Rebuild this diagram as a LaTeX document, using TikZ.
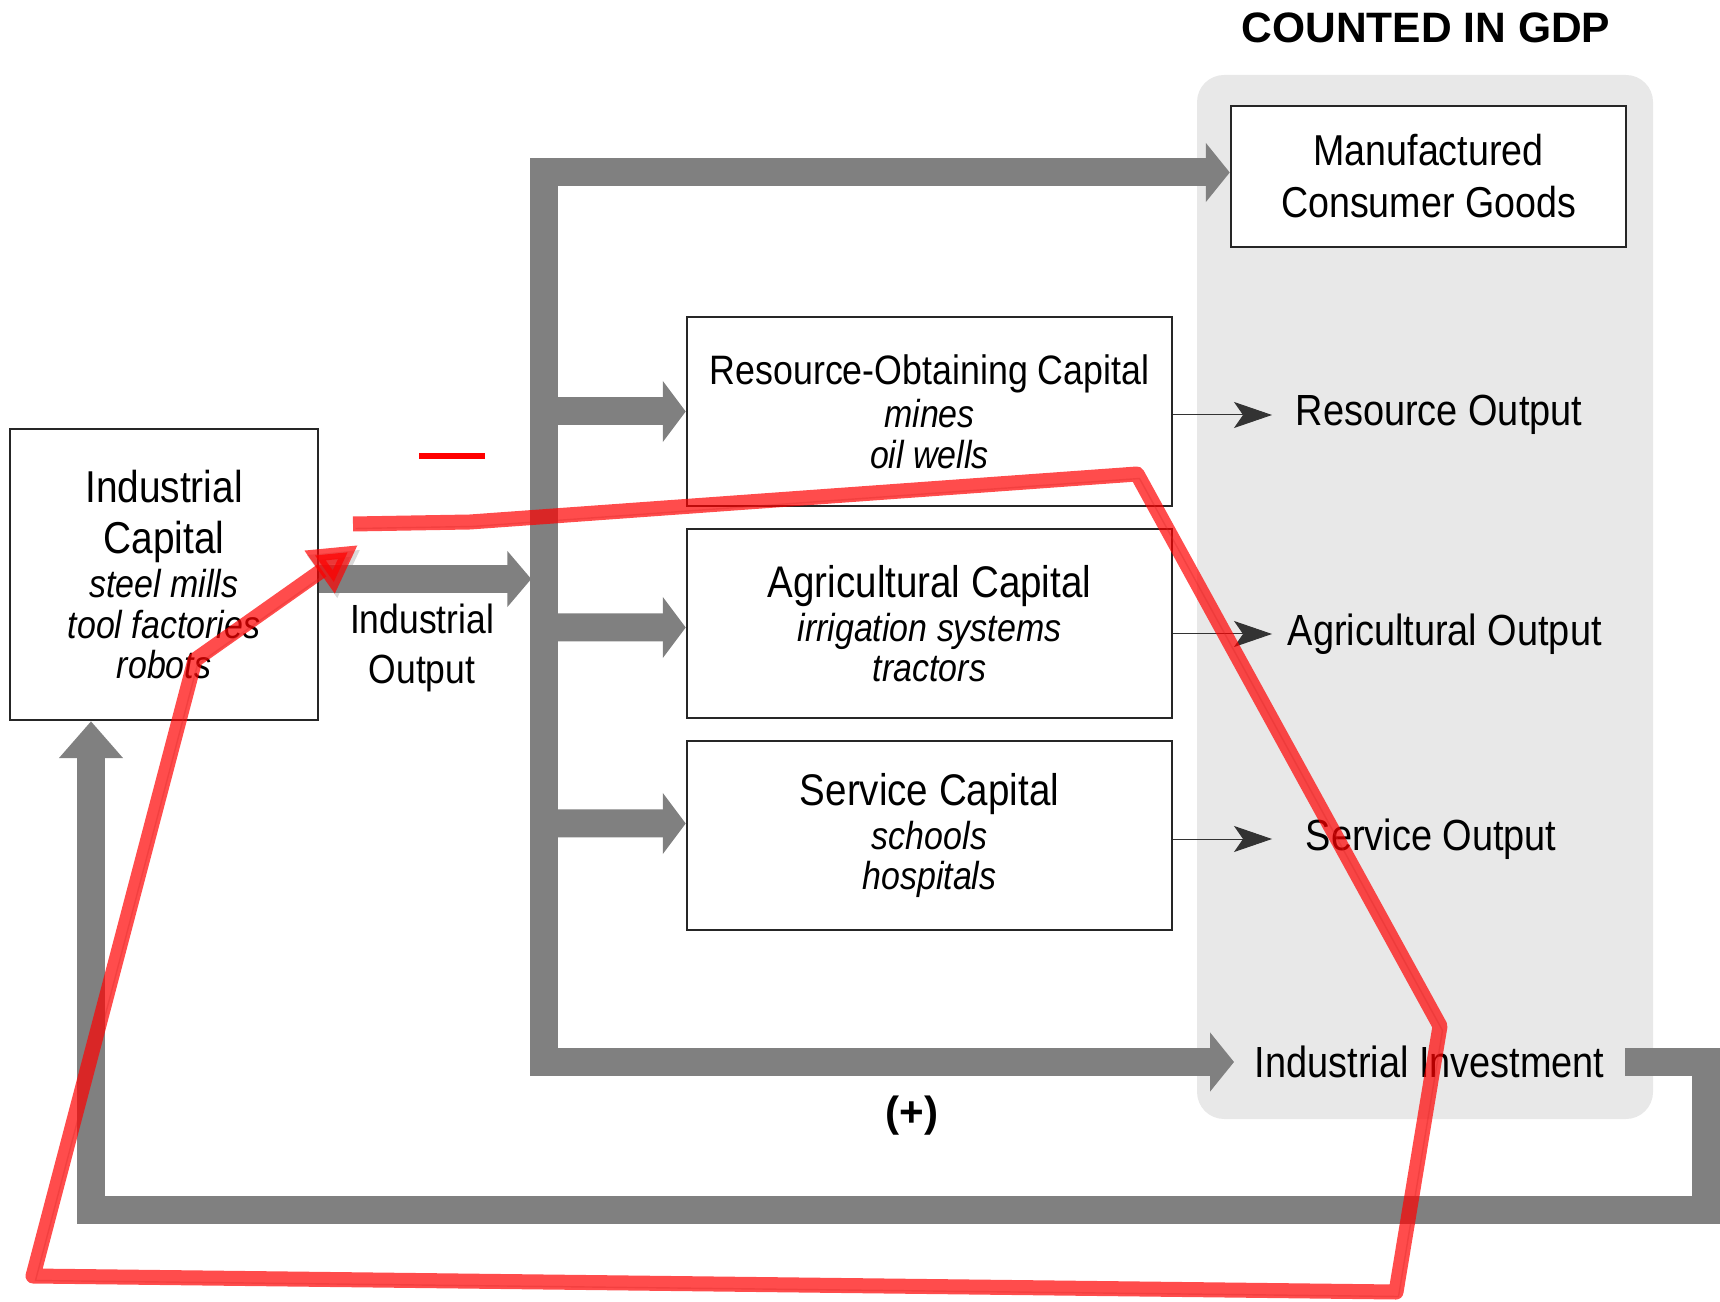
\documentclass[tikz,border=0pt]{standalone}
\usepackage{fontspec}
\setmainfont{Liberation Sans}[FakeStretch=0.87]
\newfontfamily\widefont{Liberation Sans}
\usetikzlibrary{arrows.meta,positioning}
\definecolor{trunkgray}{HTML}{808080}
\definecolor{gdpgray}{HTML}{E8E8E8}
\newcommand{\exfont}{\itshape\fontsize{11.1}{11.5}\selectfont}

\begin{document}
\begin{tikzpicture}[x=0.1mm,y=-0.1mm,>=Stealth,node distance=21.2mm,
  box/.style={draw=black!85,line width=0.25mm,fill=white,align=center,minimum width=48.5mm,minimum height=18.9mm,inner sep=0pt,font=\fontsize{12.6}{12.5}\selectfont},
  outlabel/.style={anchor=west,font=\fontsize{12.4}{13}\selectfont},
  trunk/.style={draw=trunkgray,line width=2.8mm},
  flow/.style={draw=black!80,line width=0.1mm,-{Stealth[length=3.8mm,width=2.6mm,inset=0.9mm]}},
  redloop/.style={draw=red,opacity=0.7,line width=1.5mm,line join=round,-{Triangle[length=4.7mm,width=4.9mm]}}]

    \useasboundingbox (0,0) rectangle (1720,1302);

    % GDP panel
    \node[fill=gdpgray,rounded corners=2.7mm,minimum width=45.6mm,minimum height=104.4mm,inner sep=0pt] (gdp) at (1425,597) {};
    \node[font=\widefont\bfseries\fontsize{12.1}{14}\selectfont] (gdptitle) at (1426,28) {COUNTED IN GDP};

    \node[box,minimum width=30.8mm,minimum height=29.1mm,font=\fontsize{12.7}{14.6}\selectfont] (ic) at (164,574.5)
        {Industrial\\Capital\\[-2.2pt]{\exfont steel mills}\\[-2.9pt]{\exfont tool factories}\\[-3.1pt]{\exfont robots}};
    \node[align=center,font=\fontsize{11.6}{14.4}\selectfont] (io) at (422,648) {Industrial\\Output};

    \node[box,minimum width=39.5mm,minimum height=14.1mm,font=\fontsize{12.3}{14.8}\selectfont] (mcg) at (1428.5,176.5) {Manufactured\\Consumer Goods};

    \node[box] (res) at (929.5,411.5) {{\fontsize{11.7}{12.5}\selectfont Resource-Obtaining Capital}\\{\exfont mines}\\[-1pt]{\exfont oil wells}};
    \node[box] (agr) [below of = res] {Agricultural Capital\\{\exfont irrigation systems}\\[-1pt]{\exfont tractors}};
    \node[box] (ser) [below of = agr] {Service Capital\\{\exfont schools}\\[-1pt]{\exfont hospitals}};

    \node[outlabel,inner xsep=2.3mm] (ro) at (1272,415) {Resource Output};
    \node[outlabel,inner xsep=1.5mm] (ao) at (1272,634) {Agricultural Output};
    \node[outlabel,inner xsep=3.3mm] (so) at (1272,839) {Service Output};
    \node[outlabel,inner xsep=2mm] (inv) at (1234,1062) {Industrial Investment};

    \coordinate (bar) at (544,1062);

    % gray flows
    \draw[trunk,-{Triangle[length=2.4mm,width=5.5mm]}] ([yshift=-0.45mm]ic.east) -- ++(212,0);
    \draw[trunk,{Triangle[length=2.4mm,width=5.8mm]}-{Triangle[length=2.4mm,width=5.8mm]}] ([yshift=0.4mm]mcg.west) -| (bar) -- (inv.west);
    \draw[trunk,-{Triangle[length=2.3mm,width=6mm]}] (bar |- res.west) -- (res.west);
    \draw[trunk,-{Triangle[length=2.3mm,width=6mm]}] (bar |- agr.west) ++(0,4) -- ([yshift=-0.4mm]agr.west);
    \draw[trunk,-{Triangle[length=2.3mm,width=6mm]}] (bar |- ser.west) ++(0,-12) -- ([yshift=1.2mm]ser.west);
    \draw[trunk,-{Triangle[length=3.7mm,width=6.2mm]}] (inv.east) -| (1706,1210) -| ([xshift=-7.3mm]ic.south);

    % outputs
    \draw[flow] (res.east |- ro.west) -- (ro.west);
    \draw[flow] (agr.east |- ao.west) -- (ao.west);
    \draw[flow] (ser.east |- so.west) -- (so.west);

    \node[font=\widefont\bfseries\fontsize{12}{14}\selectfont] (plus) at (912,1116) {(+)};

    % red loop
    \node[fill=red,minimum width=6.6mm,minimum height=0.6mm,inner sep=0pt] (minus) at (452,456) {};
    \draw[redloop,preaction={draw=black!50,opacity=0.3,transform canvas={shift={(0.25mm,-0.45mm)}}}]
        (353,524) -- (470,522) -- (1137,474) -- (1440,1026) -- (1396,1292) -- (33,1276) -- (195,660) -- (358,545);

\end{tikzpicture}
\end{document}
